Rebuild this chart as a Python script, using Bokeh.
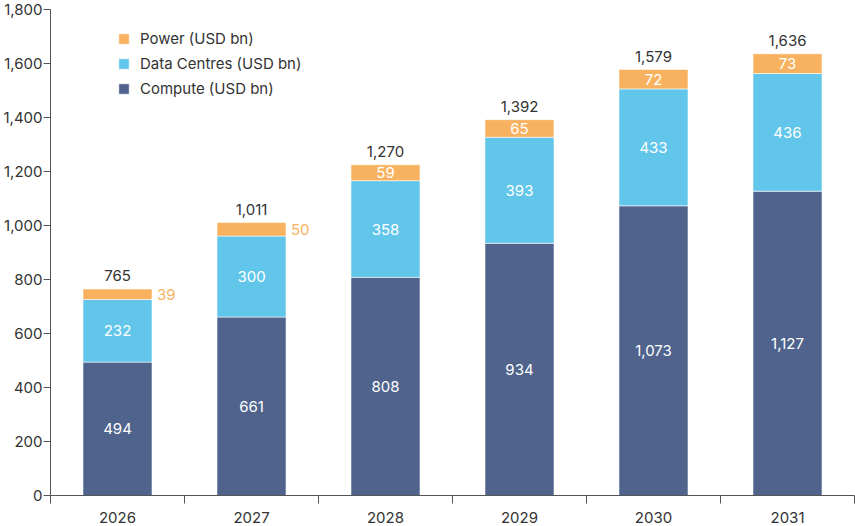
from bokeh.plotting import figure
from bokeh.models import (ColumnDataSource, FixedTicker, NumeralTickFormatter,
                          Legend, LegendItem, Range1d)
from bokeh.core.properties import value
from bokeh.embed import file_html
from bokeh.resources import INLINE

# Spending by segment, USD bn
years = [2026, 2027, 2028, 2029, 2030, 2031]
compute = [494, 661, 808, 934, 1073, 1127]
data_centres = [232, 300, 358, 393, 433, 436]
power = [39, 50, 59, 65, 72, 73]
totals = [765, 1011, 1270, 1392, 1579, 1636]
y_ticks = [0, 200, 400, 600, 800, 1000, 1200, 1400, 1600, 1800]

FONT = "Inter"
FS = "15px"
C_COMPUTE = "#4F638D"
C_DC = "#62C6EA"
C_POWER = "#F8B25F"
TEXT = "#333333"
AXIS = "#555555"

# power labels fit inside the bar only when the segment is tall enough
inside = [p_ >= 55 for p_ in power]

src = ColumnDataSource(dict(
    year=years,
    compute=compute,
    data_centres=data_centres,
    power=power,
    compute_mid=[c / 2 for c in compute],
    dc_mid=[c + d / 2 for c, d in zip(compute, data_centres)],
    power_mid=[c + d + p_ / 2 for c, d, p_ in zip(compute, data_centres, power)],
    top=[c + d + p_ for c, d, p_ in zip(compute, data_centres, power)],
    compute_lbl=[f"{v:,}" for v in compute],
    dc_lbl=[f"{v:,}" for v in data_centres],
    power_lbl=[f"{v:,}" for v in power],
    total_lbl=[f"{v:,}" for v in totals],
))

p = figure(width=855, height=526, output_backend="svg", toolbar_location=None,
           x_range=Range1d(2025.5, 2031.5), y_range=Range1d(0, 1800),
           min_border_left=50, min_border_right=1, min_border_top=9,
           min_border_bottom=31)
p.outline_line_color = None
p.xgrid.visible = False
p.ygrid.visible = False
p.background_fill_color = "white"
p.border_fill_color = "white"

BAR_W = 0.515
rs = p.vbar_stack(["compute", "data_centres", "power"], x="year", width=BAR_W,
                  color=[C_COMPUTE, C_DC, C_POWER], source=src,
                  line_color="white", line_width=0.8, line_alpha=0.7)

def txt(y, text, color, idx=None, **kw):
    if idx is None:
        s = src
    else:
        s = ColumnDataSource({k: [v[i] for i in idx] for k, v in src.data.items()})
    p.text(x="year", y=y, text=text, source=s, text_color=color,
           text_font=value(FONT), text_font_size=value(FS),
           text_baseline="middle", **kw)

txt("compute_mid", "compute_lbl", "white", text_align="center")
txt("dc_mid", "dc_lbl", "white", text_align="center")
in_idx = [i for i, f in enumerate(inside) if f]
out_idx = [i for i, f in enumerate(inside) if not f]
txt("power_mid", "power_lbl", "white", idx=in_idx, text_align="center")
txt("power_mid", "power_lbl", C_POWER, idx=out_idx, text_align="left",
    x_offset=BAR_W / 2 * 134 + 5)
txt("top", "total_lbl", TEXT, text_align="center", y_offset=-13)

# x axis: year labels at bar centres, tick marks between categories
xa = p.xaxis[0]
xa.ticker = FixedTicker(ticks=years,
                        minor_ticks=[y - 0.5 for y in years] + [years[-1] + 0.5])
xa.major_label_overrides = {y: str(y) for y in years}
xa.major_tick_line_color = None
xa.minor_tick_in = 0
xa.minor_tick_out = 8
xa.minor_tick_line_color = AXIS
xa.axis_line_color = AXIS
xa.major_label_standoff = 8
xa.major_label_text_font = FONT
xa.major_label_text_font_size = FS
xa.major_label_text_color = TEXT

ya = p.yaxis[0]
ya.ticker = FixedTicker(ticks=y_ticks, minor_ticks=[])
ya.formatter = NumeralTickFormatter(format="0,0")
ya.major_tick_in = 0
ya.major_tick_out = 7
ya.major_tick_line_color = AXIS
ya.axis_line_color = AXIS
ya.major_label_standoff = 1
ya.major_label_text_font = FONT
ya.major_label_text_font_size = FS
ya.major_label_text_color = TEXT

legend = Legend(items=[
    LegendItem(label="Power (USD bn)", renderers=[rs[2]]),
    LegendItem(label="Data Centres (USD bn)", renderers=[rs[1]]),
    LegendItem(label="Compute (USD bn)", renderers=[rs[0]]),
], location=(67, 397), glyph_width=13, glyph_height=13, label_standoff=10,
    label_text_font=FONT, label_text_font_size=FS, label_text_color=TEXT,
    border_line_color=None, background_fill_alpha=0, padding=0, margin=0,
    spacing=6, label_height=13)
p.add_layout(legend)

open("out.html", "w").write(file_html(p, INLINE))
